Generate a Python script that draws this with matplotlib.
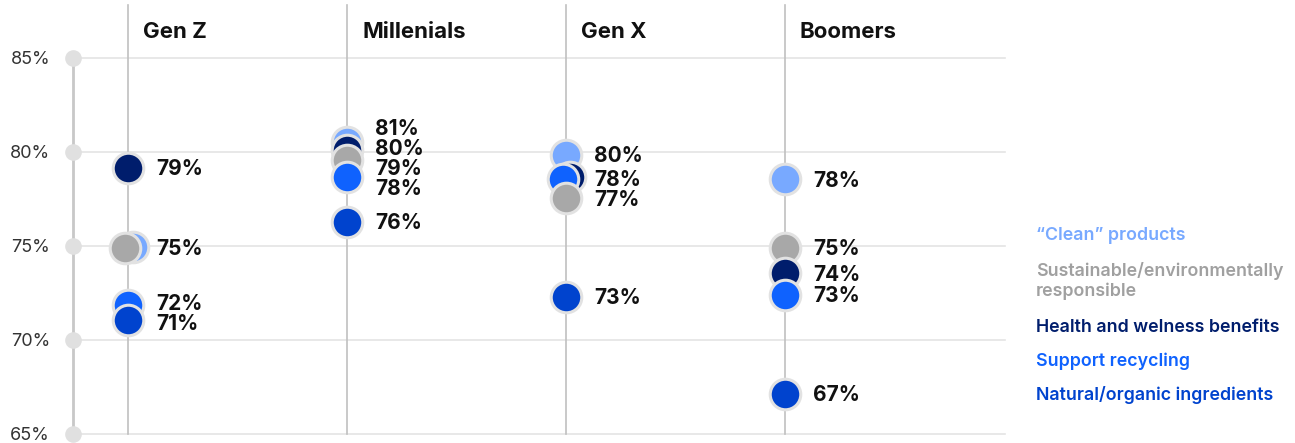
import numpy as np
import matplotlib.pyplot as plt

plt.rcParams['font.family'] = ['Inter', 'DejaVu Sans']

generations = ["Gen Z", "Millenials", "Gen X", "Boomers"]
series = ["\u201cClean\u201d products", "Sustainable/environmentally\nresponsible",
          "Health and welness benefits", "Support recycling", "Natural/organic ingredients"]
colors = ["#78a9ff", "#a8a8a8", "#001d6c", "#0f62fe", "#0043ce"]

# values per series, one entry per generation
clean = [74.95, 80.55, 79.85, 78.55]
sustainable = [74.9, 79.6, 77.55, 74.9]
health = [79.15, 80.1, 78.65, 73.55]
recycling = [71.85, 78.65, 78.55, 72.4]
natural = [71.05, 76.3, 72.3, 67.15]

clean_lbl = ["75%", "81%", "80%", "78%"]
sustainable_lbl = ["75%", "79%", "77%", "75%"]
health_lbl = ["79%", "80%", "78%", "74%"]
recycling_lbl = ["72%", "78%", "78%", "73%"]
natural_lbl = ["71%", "76%", "73%", "67%"]

yticks = [65, 70, 75, 80, 85]

values = np.array([clean, sustainable, health, recycling, natural])
labels = [clean_lbl, sustainable_lbl, health_lbl, recycling_lbl, natural_lbl]

W, H = 1295, 443
fig = plt.figure(figsize=(W / 100, H / 100), dpi=100)
ax = fig.add_axes([73 / W, 9 / H, (1005 - 73) / W, 429 / H])
step = 219.0  # px between generations
ax.set_xlim(-(128 - 73) / step, (1005 - 128) / step)
ax.set_ylim(65, 65 + 429 / 18.8)
ppx = 1 / step  # one pixel in x data units
ppy = 1 / 18.8

for s in ax.spines.values():
    s.set_visible(False)
ax.set_xticks([])
ax.set_yticks([])

# grid and axis
x0 = -(128 - 73) / step
for t in yticks:
    ax.plot([x0, (1005 - 128) / step], [t, t], color="#e4e4e4", lw=1.2, zorder=0, clip_on=False)
ax.plot([x0, x0], [yticks[0], yticks[-1]], color="#c8c8c8", lw=2, zorder=1, clip_on=False)
ax.plot([x0] * len(yticks), yticks, "o", ms=12, color="#e0e0e0", mec="none", zorder=2, clip_on=False)
for t in yticks:
    ax.text(x0 - 23 * ppx, t - 1.5 * ppy, f"{t}%", ha="right", va="center", fontsize=13,
            color="#333333")

for i, g in enumerate(generations):
    ax.plot([i, i], [65, ax.get_ylim()[1]], color="#c0c0c0", lw=1.2, zorder=1, clip_on=False)
    ax.text(i + 15 * ppx, ax.get_ylim()[1] - 27 * ppy, g, ha="left", va="center",
            fontsize=16, fontweight="bold", color="#111111")

    col = values[:, i]
    order = np.argsort(-col)  # higher first, lower drawn on top
    # horizontal dodge for near ties
    dx = np.zeros(len(col))
    for a in range(len(col)):
        for b in range(a + 1, len(col)):
            if abs(col[a] - col[b]) < 0.2:
                hi, lo = (a, b) if col[a] >= col[b] else (b, a)
                dx[hi] += 4.5
                dx[lo] -= 3.5
    for z, k in enumerate(order):
        ax.plot(i + dx[k] * ppx, col[k], "o", ms=22, color=colors[k], mec="#e2e2e2", mew=2.2,
                zorder=5 + z, clip_on=False)

    # labels, merged by text, then pushed apart
    groups = {}
    for k in range(len(col)):
        groups.setdefault(labels[k][i], []).append(col[k])
    items = sorted([(np.mean(v), t) for t, v in groups.items()], reverse=True)
    ys = [y for y, _ in items]
    gap = 20 * ppy
    for _ in range(200):
        moved = False
        for a in range(len(ys) - 1):
            d = ys[a] - ys[a + 1]
            if d < gap - 1e-9:
                push = (gap - d) / 2
                ys[a] += push
                ys[a + 1] -= push
                moved = True
        if not moved:
            break
    for y, (_, t) in zip(ys, items):
        ax.text(i + 28 * ppx, y - 1.5 * ppy, t, ha="left", va="center", fontsize=15,
                fontweight="bold", color="#111111", zorder=20)

# legend
leg_y = [236, 281, 327, 361, 395]
for k, name in enumerate(series):
    fig.text(1036 / W, 1 - leg_y[k] / H, name, ha="left", va="center", fontsize=12.8,
             fontweight="semibold", color=colors[k] if k != 1 else "#a0a0a0", linespacing=1.25)

fig.savefig("out.png", dpi=100)
